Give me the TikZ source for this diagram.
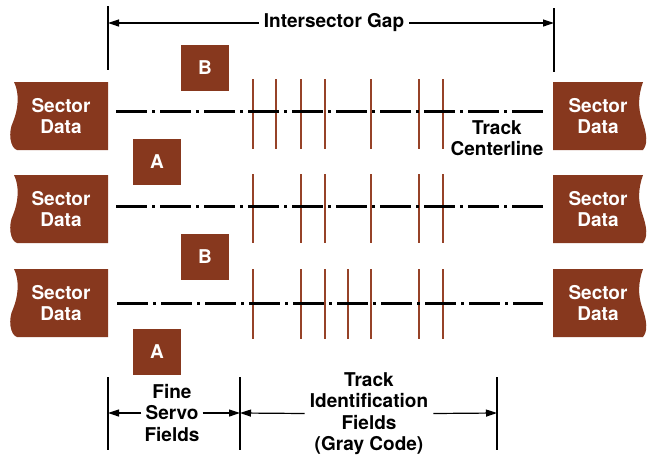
\documentclass[tikz,border=0pt]{standalone}
\usepackage{fontspec}
\setmainfont{TeX Gyre Heros}
\usetikzlibrary{arrows.meta}
\definecolor{rust}{RGB}{135,56,30}
\definecolor{rustline}{RGB}{150,66,40}
\begin{document}
\begin{tikzpicture}[x=1pt,y=-1pt,
  lab/.style={font=\bfseries\fontsize{19}{21.5}\selectfont, align=center, inner sep=0pt},
  wlab/.style={lab, text=white},
  abbox/.style={fill=rust, minimum width=48pt, minimum height=46pt, inner sep=0pt,
    font=\bfseries\fontsize{19}{21.5}\selectfont, text=white},
  dim/.style={line width=1.2pt},
  dimarrow/.style={dim, -{Triangle[length=11pt,width=7pt]}},
  cline/.style={line width=3pt, dash pattern=on 31pt off 5pt on 3pt off 5pt},
  bit/.style={draw=rustline, line width=1.6pt},
  sectorL/.pic={
    \fill[rust] (14,0) -- (108,0) -- (108,68) -- (17,68)
      .. controls (10,66) and (8,50) .. (13,40)
      .. controls (18,28) and (20,12) .. (14,0) -- cycle;
    \node[wlab] (-t) at (61,34) {Sector\\Data};
  },
  sectorR/.pic={
    \fill[rust] (553,0) -- (643,0)
      .. controls (638,14) and (638,26) .. (642,38)
      .. controls (647,52) and (648,62) .. (643,68) -- (553,68) -- cycle;
    \node[wlab] (-t) at (598,34) {Sector\\Data};
  }
]
\useasboundingbox (0,0) rectangle (649,456);

% sector data blocks
\pic (sl1) at (0,82) {sectorL};
\pic (sl2) at (0,175) {sectorL};
\pic (sl3) at (0,269) {sectorL};
\pic (sr1) at (0,82) {sectorR};
\pic (sr2) at (0,175) {sectorR};
\pic (sr3) at (0,269) {sectorR};

% A / B servo blocks
\node[abbox] (b1) at (205,67.5) {B};
\node[abbox] (a1) at (157,161.5) {A};
\node[abbox] (b2) at (205,257) {B};
\node[abbox] (a2) at (157,352) {A};

% gray code bits
\foreach \x in {253,276,301,325,371,419,443} \draw[bit] (\x,79) -- (\x,149);
\foreach \x in {253,301,325,371,419,443} \draw[bit] (\x,174) -- (\x,243);
\foreach \x in {253,301,325,348,371,419,443} \draw[bit] (\x,269) -- (\x,339);

% track centerlines
\coordinate (c1a) at (116,111); \coordinate (c1b) at (543,111);
\coordinate (c2a) at (116,206); \coordinate (c2b) at (543,206);
\coordinate (c3a) at (117,303); \coordinate (c3b) at (543,303);
\draw[cline] (c1a) -- (c1b);
\draw[cline] (c2a) -- (c2b);
\draw[cline] (c3a) -- (c3b);

\node[lab] (tcl) at (497,138) {Track\\Centerline};

% intersector gap dimension
\coordinate (gt1) at (108,6);  \coordinate (gb1) at (108,70);
\coordinate (gt2) at (554,8);  \coordinate (gb2) at (554,72);
\draw[dim] (gt1) -- (gb1);
\draw[dim] (gt2) -- (gb2);
\node[lab, inner xsep=5pt] (gap) at (334,23) {Intersector Gap};
\coordinate (gapL) at (108,23); \coordinate (gapR) at (554,23);
\draw[dimarrow] (gap.west) -- (gapL);
\draw[dimarrow] (gap.east) -- (gapR);

% bottom dimensions
\coordinate (d1t) at (108,377); \coordinate (d1b) at (108,450);
\coordinate (d2t) at (240,377); \coordinate (d2b) at (240,450);
\coordinate (d3t) at (497,377); \coordinate (d3b) at (497,450);
\draw[dim] (d1t) -- (d1b);
\draw[dim] (d2t) -- (d2b);
\draw[dim] (d3t) -- (d3b);
\coordinate (d1m) at (108,413); \coordinate (d2m) at (240,413); \coordinate (d3m) at (497,413);
\node[lab, inner xsep=3pt] (fsf) at (172,413) {Fine\\Servo\\Fields};
\draw[dimarrow] (fsf.west) -- (d1m);
\draw[dimarrow] (fsf.east) -- (d2m);
\node[lab, inner xsep=5pt] (tif) at (369,413.5) {Track\\Identification\\Fields\\(Gray Code)};
\draw[dimarrow] (tif.west) -- (d2m);
\draw[dimarrow] (tif.east) -- (d3m);
\end{tikzpicture}
\end{document}
